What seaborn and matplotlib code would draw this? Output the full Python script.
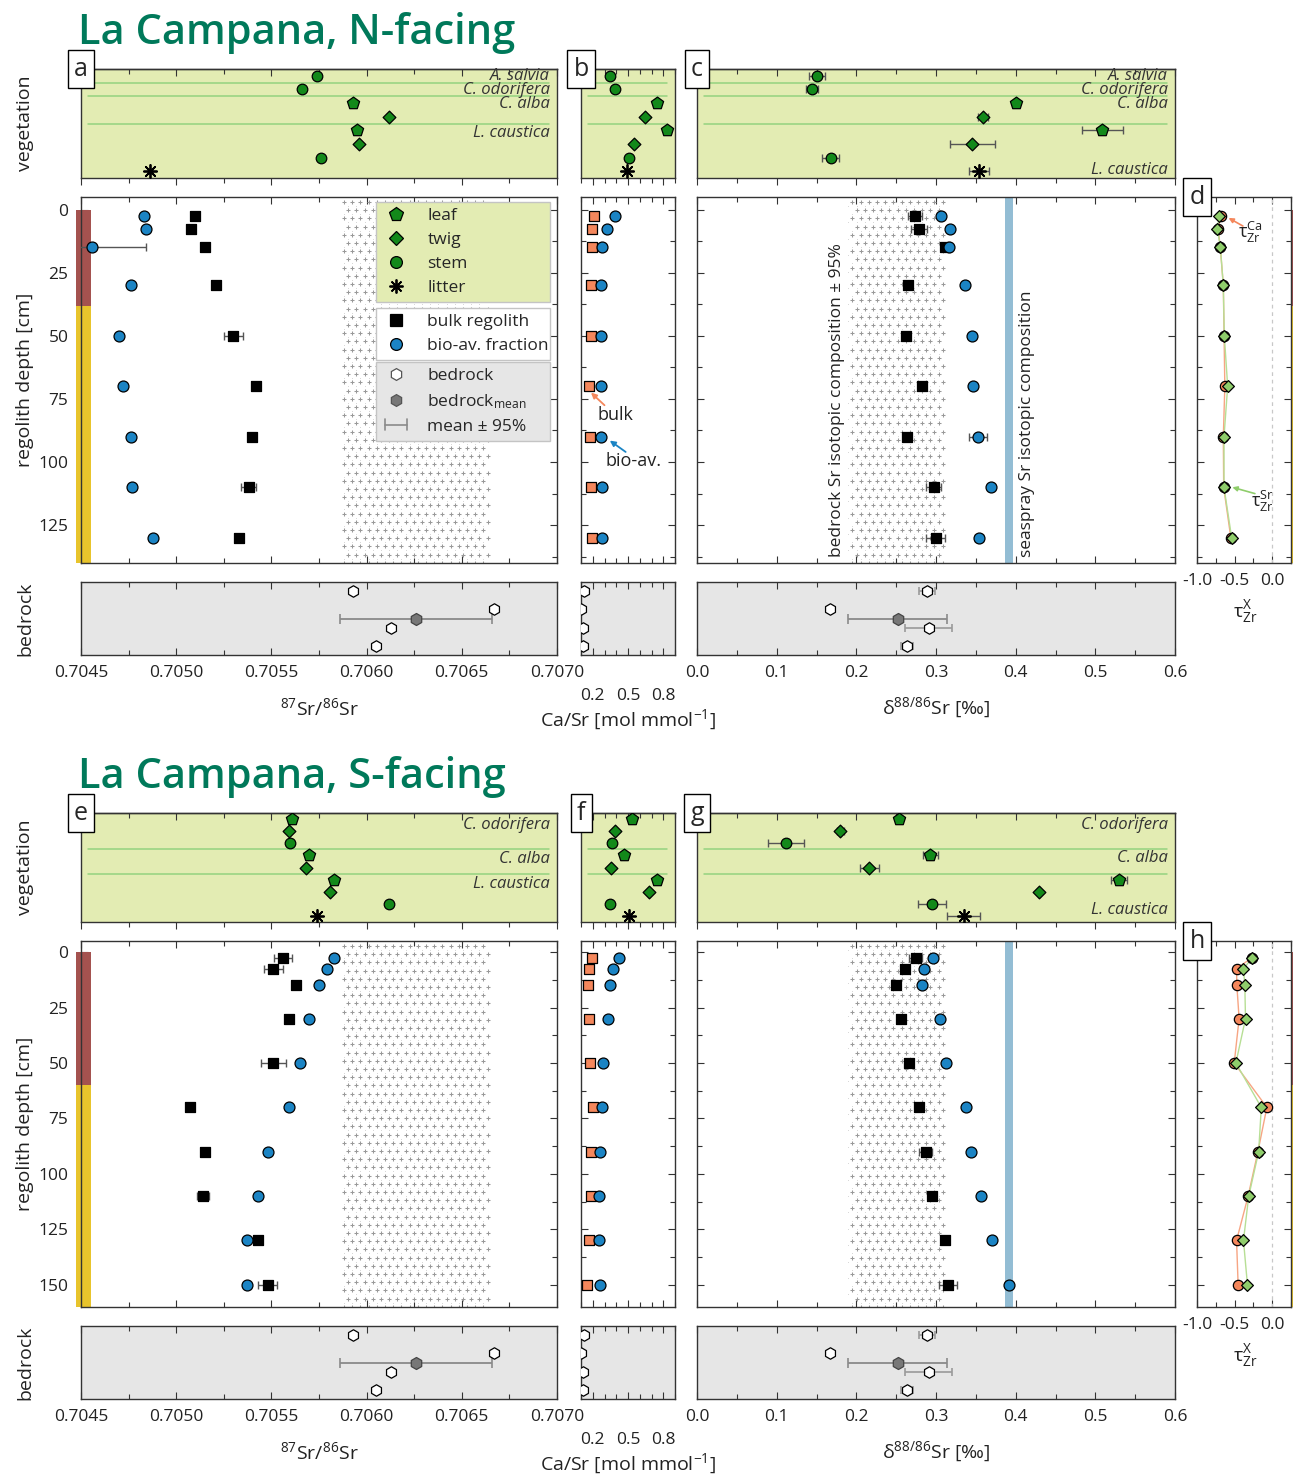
import numpy as np
import pandas as pd
import matplotlib
matplotlib.use("Agg")
import matplotlib.pyplot as plt
import matplotlib.transforms as mtransforms
from matplotlib.lines import Line2D
from matplotlib.patches import Rectangle
from matplotlib.legend_handler import HandlerBase
from matplotlib.ticker import MultipleLocator, FixedLocator, FormatStrFormatter
import seaborn as sns

# ---------------------------------------------------------------- data
depth_n = [2.5, 7.5, 15, 30, 50, 70, 90, 110, 130]
depth_s = [2.5, 7.5, 15, 30, 50, 70, 90, 110, 130, 150]
horizon_n = 38   # base of the upper horizon [cm]
horizon_s = 60

# vegetation, N-facing (rows top to bottom)
veg_n_organ = ["stem", "stem", "leaf", "twig", "leaf", "twig", "stem", "litter"]
veg_n_sr87 = [0.70574, 0.70566, 0.70593, 0.70612, 0.70595, 0.70596, 0.70576, 0.70486]
veg_n_casr = [0.347, 0.392, 0.747, 0.642, 0.833, 0.550, 0.508, 0.489]
veg_n_d88 = [0.1505, 0.1447, 0.401, 0.359, 0.5086, 0.3455, 0.1677, 0.354]
veg_n_d88_err = [0.010, 0.0075, 0, 0.006, 0.0256, 0.0285, 0.0105, 0.0126]
species_n = ["A. salvia", "C. odorifera", "C. alba", "L. caustica"]

# vegetation, S-facing
veg_s_organ = ["leaf", "twig", "stem", "leaf", "twig", "leaf", "twig", "stem", "litter"]
veg_s_sr87 = [0.70561, 0.70559, 0.70560, 0.70570, 0.70568, 0.70583, 0.70581, 0.70612, 0.70574]
veg_s_casr = [0.536, 0.389, 0.364, 0.467, 0.353, 0.747, 0.675, 0.347, 0.508]
veg_s_d88 = [0.254, 0.180, 0.112, 0.2927, 0.2164, 0.5296, 0.4294, 0.2948, 0.3346]
veg_s_d88_err = [0, 0.004, 0.0224, 0.0094, 0.0117, 0.0105, 0, 0.0174, 0.0212]
species_s = ["C. odorifera", "C. alba", "L. caustica"]

# regolith, N-facing
sr87_bulk_n = [0.70510, 0.70508, 0.70515, 0.70521, 0.70530, 0.70542, 0.70540, 0.70538, 0.70533]
sr87_bulk_n_err = [0, 0, 0, 0, 0.00005, 0, 0.00002, 0.00004, 0]
sr87_bio_n = [0.70483, 0.70484, 0.70456, 0.70476, 0.70470, 0.70472, 0.70476, 0.70477, 0.70488]
sr87_bio_n_err = [0, 0, 0.00028, 0, 0, 0, 0, 0, 0]
casr_bulk_n = [0.208, 0.197, 0.194, 0.189, 0.183, 0.169, 0.175, 0.183, 0.192]
casr_bio_n = [0.389, 0.322, 0.281, 0.270, 0.270, 0.270, 0.270, 0.278, 0.278]
d88_bulk_n = [0.2734, 0.2792, 0.3107, 0.2654, 0.2620, 0.2822, 0.2638, 0.2973, 0.2994]
d88_bulk_n_err = [0.0084, 0.010, 0.005, 0.003, 0.003, 0.004, 0, 0.0094, 0.012]
d88_bio_n = [0.3069, 0.3178, 0.3161, 0.3358, 0.3447, 0.3459, 0.3531, 0.3694, 0.3535]
d88_bio_n_err = [0, 0, 0, 0.003, 0, 0, 0.0115, 0, 0.005]
tau_ca_n = [-0.68, -0.72, -0.69, -0.65, -0.64, -0.63, -0.65, -0.645, -0.55]
tau_sr_n = [-0.703, -0.729, -0.689, -0.650, -0.637, -0.592, -0.641, -0.641, -0.539]

# regolith, S-facing
sr87_bulk_s = [0.70556, 0.70551, 0.70563, 0.70559, 0.70551, 0.70507, 0.70515, 0.70514, 0.70543, 0.70548]
sr87_bulk_s_err = [0.000048, 0.00005, 0, 0, 0.000066, 0, 0, 0.000033, 0, 0.00005]
sr87_bio_s = [0.70583, 0.70579, 0.70575, 0.70570, 0.70565, 0.70559, 0.70548, 0.70543, 0.70537, 0.70537]
sr87_bio_s_err = [0, 0, 0, 0, 0, 0, 0, 0, 0, 0]
casr_bulk_s = [0.192, 0.167, 0.161, 0.167, 0.175, 0.203, 0.186, 0.181, 0.164, 0.153]
casr_bio_s = [0.4225, 0.3725, 0.350, 0.3275, 0.289, 0.275, 0.264, 0.2525, 0.2525, 0.261]
d88_bulk_s = [0.2746, 0.2616, 0.2503, 0.2557, 0.2658, 0.2784, 0.2872, 0.2948, 0.3115, 0.3153]
d88_bulk_s_err = [0.0084, 0, 0, 0, 0, 0, 0.008, 0, 0, 0.011]
d88_bio_s = [0.2964, 0.2855, 0.2830, 0.3053, 0.3128, 0.3371, 0.3434, 0.3568, 0.3702, 0.3912]
d88_bio_s_err = [0, 0, 0, 0, 0, 0, 0, 0, 0, 0]
tau_ca_s = [-0.27, -0.474, -0.47, -0.44, -0.505, -0.071, -0.19, -0.32, -0.474, -0.453]
tau_sr_s = [-0.263, -0.382, -0.364, -0.355, -0.483, -0.145, -0.18, -0.312, -0.382, -0.329]

# bedrock samples
bed_sr87 = [0.70593, 0.70667, 0.70613, 0.70605]
bed_casr = [0.125, 0.100, 0.115, 0.115]
bed_d88 = [0.289, 0.167, 0.2906, 0.2635]
bed_d88_err = [0.010, 0, 0.029, 0.008]
bed_sr87_mean, bed_sr87_ci = 0.70626, 0.00040
bed_d88_mean, bed_d88_ci = 0.252, 0.062
seaspray_d88 = 0.392

# ---------------------------------------------------------------- style
sns.set_theme(style="ticks")
plt.rcParams["font.family"] = ["Open Sans", "DejaVu Sans"]
plt.rcParams["mathtext.fontset"] = "custom"
plt.rcParams["mathtext.rm"] = "Open Sans"
plt.rcParams["mathtext.it"] = "Open Sans:italic"
plt.rcParams["mathtext.bf"] = "Open Sans:bold"
plt.rcParams["axes.unicode_minus"] = False
plt.rcParams["axes.edgecolor"] = "#333333"
plt.rcParams["axes.linewidth"] = 1.0

GREEN = "#13891a"
BLUE = "#1b84c4"
ORANGE = "#f4875c"
LGREEN = "#8fcd6b"
VEG_BG = "#e3ecb3"
BED_BG = "#e6e6e6"
TITLE_C = "#00795a"
RED_H = "#a4524f"
YEL_H = "#e8c42c"
ERR_C = "#555555"
SEP_C = "#94d27f"
STIP_C = "#999999"
SEA_C = "#93bdd4"
TICK_FS = 12.5
LAB_FS = 14

W, H = 1293, 1478
fig = plt.figure(figsize=(W / 100, H / 100), dpi=100)


def px_axes(l, t, r, b):
    return fig.add_axes([l / W, 1 - b / H, (r - l) / W, (b - t) / H])


organ_marker = {"leaf": "p", "twig": "D", "stem": "o", "litter": (8, 2, 0)}
organ_size = {"leaf": 85, "twig": 42, "stem": 58, "litter": 90}


class HandlerCI(HandlerBase):
    """Legend key drawn as a horizontal bar with end caps."""

    def create_artists(self, legend, orig_handle, xdescent, ydescent,
                       width, height, fontsize, trans):
        y = height / 2 - ydescent
        x0, x1 = -xdescent + 2, width - xdescent - 2
        h = height * 0.45
        kw = dict(color="#8a8a8a", lw=1.2, transform=trans)
        return [Line2D([x0, x1], [y, y], **kw),
                Line2D([x0, x0], [y - h, y + h], **kw),
                Line2D([x1, x1], [y - h, y + h], **kw)]


def dots(ax, x, y, marker, s, fc, ec="black", lw=0.9, z=5):
    x = np.asarray(x, float)
    y = np.asarray(y, float)
    if isinstance(marker, tuple):
        sns.scatterplot(x=x, y=y, ax=ax, marker=marker, s=s, color=fc,
                        edgecolor=None, linewidth=1.3, zorder=z, legend=False)
    else:
        sns.scatterplot(x=x, y=y, ax=ax, marker=marker, s=s, color=fc,
                        edgecolor=ec, linewidth=lw, zorder=z, legend=False)


def xerrbars(ax, x, y, err, color=ERR_C, cap=3, lw=1.0, z=4):
    x, y, err = (np.asarray(v, float) for v in (x, y, err))
    m = err > 0
    if m.any():
        ax.errorbar(x[m], y[m], xerr=err[m], fmt="none", ecolor=color,
                    elinewidth=lw, capsize=cap, capthick=lw, zorder=z)


def stipple(ax, x0, x1, step=8.2):
    """Plus-sign texture filling a vertical band of the axes."""
    tr = ax.transData
    px0 = tr.transform((x0, 0))[0]
    px1 = tr.transform((x1, 0))[0]
    bb = ax.bbox
    plus, pts = [], []
    for j, yy in enumerate(np.arange(bb.y1 - step * 0.6, bb.y0, -step)):
        off = (j % 2) * step / 2
        for xx in np.arange(px0 + step * 0.5 + off, px1 - step * 0.2, step):
            plus.append((xx, yy))
            pts.append((xx - step / 2, yy - step / 2))
    inv = tr.inverted()
    plus = inv.transform(np.array(plus))
    pts = inv.transform(np.array(pts))
    ax.scatter(plus[:, 0], plus[:, 1], marker="+", s=12, c=STIP_C,
               linewidths=0.75, zorder=0.6)
    keep = pts[:, 0] > x0
    ax.scatter(pts[keep, 0], pts[keep, 1], marker=".", s=1.0, c="#c0c0c0",
               linewidths=0, zorder=0.6)


def tick_style(ax, xmaj, xmin, yaxis=True, labelleft=False, labelbottom=False):
    if xmaj is not None:
        ax.xaxis.set_major_locator(xmaj)
        ax.xaxis.set_minor_locator(MultipleLocator(xmin))
    ax.tick_params(which="both", direction="in", top=True, bottom=True,
                   left=yaxis, right=yaxis, colors="#333333",
                   labelcolor="#222222", labelsize=TICK_FS,
                   labelleft=labelleft, labelbottom=labelbottom)
    ax.tick_params(which="major", length=5, width=0.8)
    ax.tick_params(which="minor", length=3.5, width=0.8)


def letter(ax, s):
    ax.text(0, 1, s, transform=ax.transAxes, ha="center", va="center",
            fontsize=18, zorder=20, clip_on=False,
            bbox=dict(boxstyle="square,pad=0.25", fc="white", ec="black", lw=1))


def horizon_bar(ax, boundary, bottom, x0=-0.0105, w=0.0315):
    tr = mtransforms.blended_transform_factory(ax.transAxes, ax.transData)
    ax.add_patch(Rectangle((x0, 0), w, boundary, transform=tr, color=RED_H,
                           lw=0, zorder=1.5, clip_on=False))
    ax.add_patch(Rectangle((x0, boundary), w, bottom - boundary, transform=tr,
                           color=YEL_H, lw=0, zorder=1.5, clip_on=False))


def veg_panel(ax, organs, values, errs, xlim, xmaj, xmin, seps, labels, label_rows):
    n = len(organs)
    ax.set_facecolor(VEG_BG)
    ax.set_xlim(xlim)
    ax.set_ylim(n + 0.5, 0.5)
    wpx = ax.bbox.width
    for yy in seps:
        ax.axhline(yy, xmin=7 / wpx, xmax=1 - 8 / wpx, color=SEP_C, lw=1.1, zorder=1)
    df = pd.DataFrame({"row": np.arange(1, n + 1), "organ": organs,
                       "val": values, "err": errs})
    xerrbars(ax, df["val"], df["row"], df["err"])
    for organ, sub in df.groupby("organ"):
        col = "black" if organ == "litter" else GREEN
        dots(ax, sub["val"], sub["row"], organ_marker[organ], organ_size[organ], col)
    for lab, r in zip(labels, label_rows):
        ax.text(0.985, r, lab, transform=mtransforms.blended_transform_factory(
            ax.transAxes, ax.transData), ha="right", va="center",
            fontsize=12, style="italic", color="#333333", zorder=6)
    ax.xaxis.set_major_locator(xmaj)
    ax.xaxis.set_minor_locator(MultipleLocator(xmin))
    ax.tick_params(which="both", direction="out", bottom=True, top=False,
                   left=False, right=False, labelbottom=False, labelleft=False,
                   colors="#333333")
    ax.tick_params(which="major", length=5, width=0.8)
    ax.tick_params(which="minor", length=3.5, width=0.8)
    sec = ax.secondary_xaxis("top")
    sec.xaxis.set_major_locator(xmaj)
    sec.xaxis.set_minor_locator(MultipleLocator(xmin))
    sec.tick_params(which="both", direction="in", labeltop=False, colors="#333333")
    sec.tick_params(which="major", length=5, width=0.8)
    sec.tick_params(which="minor", length=3.5, width=0.8)
    ax.set_xlabel("")
    ax.set_ylabel("")


def bedrock_panel(ax, vals, errs, mean, ci, xlim):
    ax.set_facecolor(BED_BG)
    ax.set_xlim(xlim)
    ax.set_ylim(4.5, 0.5)
    rows = np.arange(1, len(vals) + 1)
    xerrbars(ax, vals, rows, errs, color="#9a9a9a", lw=1.2)
    if mean is not None:
        ax.errorbar([mean], [2.5], xerr=[ci], fmt="none", ecolor="#8a8a8a",
                    elinewidth=1.3, capsize=3.5, capthick=1.2, zorder=4)
        dots(ax, [mean], [2.5], "h", 75, "#777777", ec="#444444")
    dots(ax, vals, rows, "h", 68, "white")
    ax.set_xlabel("")
    ax.set_ylabel("")


def section(off, title, veg_organ, veg_sr87, veg_casr, veg_d88, veg_d88_err,
            species, seps, rows_a, rows_c, depth, horizon, ymax,
            sr87_bulk, sr87_bulk_err, sr87_bio, sr87_bio_err,
            casr_bulk, casr_bio, d88_bulk, d88_bulk_err, d88_bio, d88_bio_err,
            tau_ca, tau_sr, letters, first):
    fig.text(78 / W, 1 - (33 + off) / H, title, fontsize=30, color=TITLE_C,
             weight="semibold", ha="left", va="center")

    ax_va = px_axes(81, 69 + off, 557, 178 + off)
    ax_ma = px_axes(81, 197 + off, 557, 563 + off)
    ax_ba = px_axes(81, 582 + off, 557, 655 + off)
    ax_vb = px_axes(581, 69 + off, 675, 178 + off)
    ax_mb = px_axes(581, 197 + off, 675, 563 + off)
    ax_bb = px_axes(581, 582 + off, 675, 655 + off)
    ax_vc = px_axes(697, 69 + off, 1175, 178 + off)
    ax_mc = px_axes(697, 197 + off, 1175, 563 + off)
    ax_bc = px_axes(697, 582 + off, 1175, 655 + off)
    ax_d = px_axes(1197, 197 + off, 1291, 563 + off)

    xl_a, xl_b, xl_c, xl_d = (0.7045, 0.7070), (0.1, 0.9), (0.0, 0.6), (-1.0, 0.25)
    loc_a = MultipleLocator(0.0005)
    loc_b = FixedLocator([0.2, 0.5, 0.8])
    loc_c = MultipleLocator(0.1)

    # vegetation strips
    veg_panel(ax_va, veg_organ, veg_sr87, [0] * len(veg_organ), xl_a, loc_a, 0.00025,
              seps, species, rows_a)
    veg_panel(ax_vb, veg_organ, veg_casr, [0] * len(veg_organ), xl_b, loc_b, 0.1,
              seps, [], [])
    veg_panel(ax_vc, veg_organ, veg_d88, veg_d88_err, xl_c, loc_c, 0.05,
              seps, species, rows_c)

    # regolith depth profiles
    for ax, xl in ((ax_ma, xl_a), (ax_mb, xl_b), (ax_mc, xl_c), (ax_d, xl_d)):
        ax.set_xlim(xl)
        ax.set_ylim(ymax, -5)
        ax.yaxis.set_major_locator(MultipleLocator(25))
        ax.yaxis.set_minor_locator(MultipleLocator(12.5))

    tick_style(ax_ma, loc_a, 0.00025, labelleft=True)
    tick_style(ax_mb, loc_b, 0.1)
    tick_style(ax_mc, loc_c, 0.05)
    tick_style(ax_d, MultipleLocator(0.5), 0.25, labelbottom=True)
    ax_ma.tick_params(axis="y", pad=9)
    ax_d.xaxis.set_major_formatter(FormatStrFormatter("%.1f"))
    ax_d.tick_params(axis="x", pad=7)

    horizon_bar(ax_ma, horizon, ymax)
    horizon_bar(ax_d, horizon, ymax, x0=1.0, w=0.06)

    # panel a / e
    xerrbars(ax_ma, sr87_bulk, depth, sr87_bulk_err)
    xerrbars(ax_ma, sr87_bio, depth, sr87_bio_err)
    dots(ax_ma, sr87_bulk, depth, "s", 58, "black")
    dots(ax_ma, sr87_bio, depth, "o", 62, BLUE)

    # panel b / f
    dots(ax_mb, casr_bulk, depth, "s", 58, ORANGE)
    dots(ax_mb, casr_bio, depth, "o", 62, BLUE)

    # panel c / g
    ax_mc.axvspan(seaspray_d88 - 0.005, seaspray_d88 + 0.005, color=SEA_C, lw=0, zorder=1)
    xerrbars(ax_mc, d88_bulk, depth, d88_bulk_err)
    xerrbars(ax_mc, d88_bio, depth, d88_bio_err)
    dots(ax_mc, d88_bulk, depth, "s", 58, "black")
    dots(ax_mc, d88_bio, depth, "o", 62, BLUE)

    # panel d / h : tau
    ax_d.axvline(0, color="#c8c8c8", lw=0.9, ls=(0, (3, 3)), zorder=1)
    sns.lineplot(x=np.asarray(tau_ca), y=np.asarray(depth, float), ax=ax_d,
                 sort=False, orient="y", estimator=None, color="#f7a583", lw=1.0,
                 zorder=2, legend=False)
    sns.lineplot(x=np.asarray(tau_sr), y=np.asarray(depth, float), ax=ax_d,
                 sort=False, orient="y", estimator=None, color="#b7df95", lw=1.0,
                 zorder=2, legend=False)
    dots(ax_d, tau_ca, depth, "o", 55, ORANGE)
    dots(ax_d, tau_sr, depth, "D", 36, LGREEN)
    for ax in (ax_ma, ax_mb, ax_mc, ax_d):
        ax.set_xlabel("")
        ax.set_ylabel("")

    # bedrock strips
    bedrock_panel(ax_ba, bed_sr87, [0] * 4, bed_sr87_mean, bed_sr87_ci, xl_a)
    bedrock_panel(ax_bb, bed_casr, [0] * 4, None, None, xl_b)
    bedrock_panel(ax_bc, bed_d88, bed_d88_err, bed_d88_mean, bed_d88_ci, xl_c)
    tick_style(ax_ba, loc_a, 0.00025, yaxis=False, labelbottom=True)
    tick_style(ax_bb, loc_b, 0.1, yaxis=False, labelbottom=True)
    tick_style(ax_bc, loc_c, 0.05, yaxis=False, labelbottom=True)
    ax_ba.xaxis.set_major_formatter(FormatStrFormatter("%.4f"))
    ax_bb.xaxis.set_major_formatter(FormatStrFormatter("%.1f"))
    ax_bc.xaxis.set_major_formatter(FormatStrFormatter("%.1f"))
    ax_ba.tick_params(axis="x", pad=7)
    ax_bc.tick_params(axis="x", pad=7)
    ax_bb.tick_params(axis="x", pad=24)

    # bedrock mean +/- 95 % bands
    stipple(ax_ma, bed_sr87_mean - bed_sr87_ci, bed_sr87_mean + bed_sr87_ci)
    stipple(ax_mc, bed_d88_mean - bed_d88_ci, bed_d88_mean + bed_d88_ci)

    # axis titles
    for txt, yy in (("vegetation", 123), ("regolith depth [cm]", 380), ("bedrock", 619)):
        fig.text(25 / W, 1 - (yy + off) / H, txt, rotation=90, ha="center",
                 va="center", fontsize=LAB_FS, color="#222222")
    fig.text(319 / W, 1 - (708 + off) / H, r"$^{87}$Sr/$^{86}$Sr", ha="center",
             va="center", fontsize=LAB_FS, color="#222222")
    fig.text(628 / W, 1 - (720 + off) / H, r"Ca/Sr [mol mmol$^{-1}$]", ha="center",
             va="center", fontsize=LAB_FS, color="#222222")
    fig.text(936 / W, 1 - (708 + off) / H, "δ$^{88/86}$Sr [‰]", ha="center",
             va="center", fontsize=LAB_FS, color="#222222")
    fig.text(1245 / W, 1 - (612 + off) / H, r"τ$^{\mathrm{X}}_{\mathrm{Zr}}$",
             ha="center", va="center", fontsize=LAB_FS, color="#222222")

    for ax, s in zip((ax_va, ax_vb, ax_vc, ax_d), letters):
        letter(ax, s)

    if first:
        # legend boxes
        kw = dict(ls="none", mec="black", mew=0.9)
        veg_h = [Line2D([], [], marker="p", ms=10, mfc=GREEN, **kw),
                 Line2D([], [], marker="D", ms=7, mfc=GREEN, **kw),
                 Line2D([], [], marker="o", ms=8.5, mfc=GREEN, **kw),
                 Line2D([], [], marker=(8, 2, 0), ms=10, color="black", mew=1.3, ls="none")]
        reg_h = [Line2D([], [], marker="s", ms=8, mfc="black", **kw),
                 Line2D([], [], marker="o", ms=8.5, mfc=BLUE, **kw)]
        ci_h = Line2D([], [])
        bed_h = [Line2D([], [], marker="h", ms=8.5, mfc="white", mec="#555555", mew=0.9, ls="none"),
                 Line2D([], [], marker="h", ms=8.5, mfc="#777777", mec="#555555", mew=0.9, ls="none"),
                 ci_h]
        common = dict(loc="upper left", mode="expand", fancybox=False, framealpha=1,
                      edgecolor="#c4c4c4", fontsize=12.5, borderaxespad=0,
                      handletextpad=1.0, handlelength=1.6, borderpad=0.35,
                      labelspacing=0.45)
        l1 = ax_ma.legend(veg_h, ["leaf", "twig", "stem", "litter"],
                          bbox_to_anchor=(0.62, 0.986, 0.365, 0), facecolor=VEG_BG, **common)
        ax_ma.add_artist(l1)
        l2 = ax_ma.legend(reg_h, ["bulk regolith", "bio-av. fraction"],
                          bbox_to_anchor=(0.62, 0.697, 0.365, 0), facecolor="white", **common)
        ax_ma.add_artist(l2)
        l3 = ax_ma.legend(bed_h, ["bedrock", r"bedrock$_{\mathrm{mean}}$", "mean ± 95%"],
                          bbox_to_anchor=(0.62, 0.549, 0.365, 0), facecolor=BED_BG,
                          handler_map={ci_h: HandlerCI()}, **common)
        for lg in (l1, l2, l3):
            lg.set_zorder(10)

        # callouts in panel b
        ax_mb.annotate("", xy=(0.185, 72.5), xytext=(0.30, 77.5),
                       arrowprops=dict(arrowstyle="-|>", color=ORANGE, lw=1.3,
                                       mutation_scale=8, shrinkA=0, shrinkB=0))
        ax_mb.text(0.39, 81.5, "bulk", ha="center", va="center", fontsize=13,
                   color="#222222")
        ax_mb.annotate("", xy=(0.345, 91.5), xytext=(0.48, 96),
                       arrowprops=dict(arrowstyle="-|>", color=BLUE, lw=1.3,
                                       mutation_scale=8, shrinkA=0, shrinkB=0))
        ax_mb.text(0.545, 99.5, "bio-av.", ha="center", va="center", fontsize=13,
                   color="#222222")

        # rotated band labels in panel c
        ax_mc.text(0.176, 137.5, "bedrock Sr isotopic composition ± 95%",
                   rotation=90, ha="center", va="bottom", fontsize=12.5, color="#222222",
                   zorder=6)
        ax_mc.text(0.414, 137.5, "seaspray Sr isotopic composition", rotation=90,
                   ha="center", va="bottom", fontsize=12.5, color="#222222", zorder=6)

        # tau callouts in panel d
        ax_d.annotate("", xy=(-0.58, 3.3), xytext=(-0.39, 6.5),
                      arrowprops=dict(arrowstyle="-|>", color=ORANGE, lw=1.2,
                                      mutation_scale=7, shrinkA=0, shrinkB=0))
        ax_d.text(-0.29, 9.0, r"τ$^{\mathrm{Ca}}_{\mathrm{Zr}}$", ha="center",
                  va="center", fontsize=13, color="#222222")
        ax_d.annotate("", xy=(-0.53, 110), xytext=(-0.23, 112.5),
                      arrowprops=dict(arrowstyle="-|>", color=LGREEN, lw=1.2,
                                      mutation_scale=7, shrinkA=0, shrinkB=0))
        ax_d.text(-0.13, 115.5, r"τ$^{\mathrm{Sr}}_{\mathrm{Zr}}$", ha="center",
                  va="center", fontsize=13, color="#222222")


section(0, "La Campana, N-facing", veg_n_organ, veg_n_sr87, veg_n_casr, veg_n_d88,
        veg_n_d88_err, species_n, [1.5, 2.5, 4.5], [1.0, 2.05, 3.05, 5.2],
        [1.0, 2.05, 3.05, 7.9], depth_n, horizon_n, 140,
        sr87_bulk_n, sr87_bulk_n_err, sr87_bio_n, sr87_bio_n_err,
        casr_bulk_n, casr_bio_n, d88_bulk_n, d88_bulk_n_err, d88_bio_n, d88_bio_n_err,
        tau_ca_n, tau_sr_n, "abcd", True)

section(744, "La Campana, S-facing", veg_s_organ, veg_s_sr87, veg_s_casr, veg_s_d88,
        veg_s_d88_err, species_s, [3.5, 5.5], [1.45, 4.3, 6.35], [1.45, 4.2, 8.55],
        depth_s, horizon_s, 160,
        sr87_bulk_s, sr87_bulk_s_err, sr87_bio_s, sr87_bio_s_err,
        casr_bulk_s, casr_bio_s, d88_bulk_s, d88_bulk_s_err, d88_bio_s, d88_bio_s_err,
        tau_ca_s, tau_sr_s, "efgh", False)

fig.savefig("out.png", dpi=100, facecolor="white")
